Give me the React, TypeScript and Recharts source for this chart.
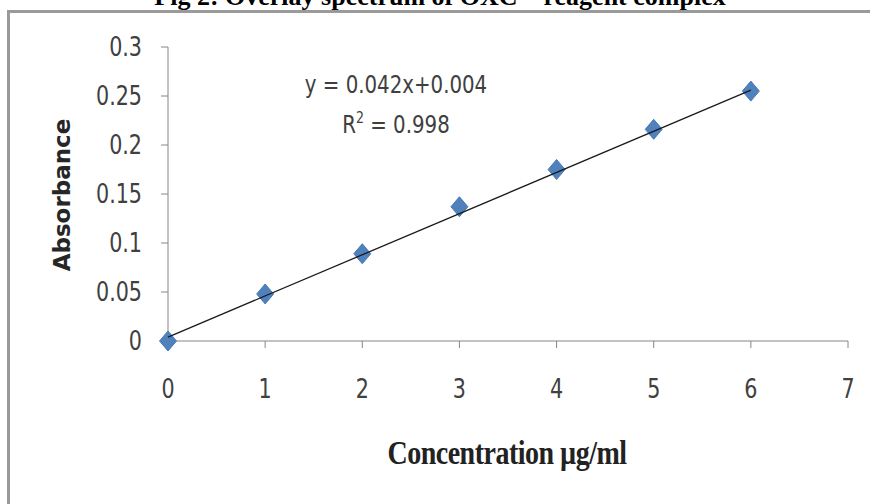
import React from 'react';
import { ScatterChart, Scatter, XAxis, YAxis } from 'recharts';

// calibration data
const concentration = [0, 1, 2, 3, 4, 5, 6];
const absorbance = [0, 0.048, 0.089, 0.137, 0.175, 0.216, 0.255];
const xTicks = [0, 1, 2, 3, 4, 5, 6, 7];
const yTicks = [0, 0.05, 0.1, 0.15, 0.2, 0.25, 0.3];
const yTickLabels = ['0', '0.05', '0.1', '0.15', '0.2', '0.25', '0.3'];
// linear trendline ends, from y = 0.042x + 0.004
const trendX = [0, 6];
const trendY = [0.004, 0.256];

const points = concentration.map((x, i) => ({ x, y: absorbance[i] }));
const trend = trendX.map((x, i) => ({ x, y: trendY[i] }));

const narrow = '"DejaVu Sans Condensed", "Liberation Sans Narrow", sans-serif';
const serif = '"Liberation Serif", "Times New Roman", serif';

function Diamond(props: any) {
  const { cx, cy } = props;
  if (cx == null || cy == null) return <g />;
  return (
    <path
      d={`M${cx},${cy - 10} L${cx + 8.5},${cy} L${cx},${cy + 10} L${cx - 8.5},${cy} Z`}
      fill="#4f81bd"
      stroke="#4a7ab3"
      strokeWidth={1}
    />
  );
}

function NoDot() {
  return <g />;
}

// tick text a bit taller than wide, like the original's condensed font
function XTick(props: any) {
  const { x, y, payload } = props;
  return (
    <text
      transform={`translate(${x},${y}) scale(1,1.15)`}
      textAnchor="middle"
      dy="0.71em"
      fontSize={23}
      fill="#404040"
      fontFamily={narrow}
    >
      {payload.value}
    </text>
  );
}

function YTick(props: any) {
  const { x, y, payload } = props;
  const label = yTickLabels[yTicks.indexOf(payload.value)] ?? String(payload.value);
  return (
    <text
      transform={`translate(${x},${y}) scale(1,1.15)`}
      textAnchor="end"
      dy="0.355em"
      fontSize={23}
      fill="#404040"
      fontFamily={narrow}
    >
      {label}
    </text>
  );
}

export default function App() {
  return (
    <div style={{ position: 'relative', width: 870, height: 504, overflow: 'hidden', background: '#fff' }}>
      <style>{'body{margin:0}'}</style>
      <div
        style={{
          position: 'absolute',
          left: 0,
          width: 880,
          top: -18,
          textAlign: 'center',
          fontFamily: serif,
          fontWeight: 'bold',
          fontSize: 26,
          lineHeight: '30px',
          color: '#000',
          whiteSpace: 'nowrap',
        }}
      >
        Fig 2: Overlay spectrum of OXC – reagent complex
      </div>
      <div
        style={{
          position: 'absolute',
          left: 7,
          top: 10,
          width: 1000,
          height: 1000,
          border: '3px solid #9a9a9a',
          boxSizing: 'border-box',
        }}
      />
      <ScatterChart width={870} height={504} margin={{ top: 47, right: 22, left: 108, bottom: 133 }}>
        <XAxis
          type="number"
          dataKey="x"
          domain={[0, 7]}
          ticks={xTicks}
          interval={0}
          height={30}
          stroke="#868686"
          tickSize={7}
          tickMargin={31}
          tick={XTick}
        />
        <YAxis
          type="number"
          dataKey="y"
          domain={[0, 0.3]}
          ticks={yTicks}
          interval={0}
          width={60}
          stroke="#868686"
          tickSize={7}
          tickMargin={19}
          tick={YTick}
        />
        <Scatter data={points} shape={Diamond} isAnimationActive={false} />
        <Scatter
          data={trend}
          line={{ stroke: '#1a1a1a', strokeWidth: 1.3 }}
          shape={NoDot}
          isAnimationActive={false}
        />
      </ScatterChart>
      <div
        style={{
          position: 'absolute',
          left: 246,
          width: 300,
          top: 67,
          textAlign: 'center',
          fontFamily: narrow,
          fontSize: 22,
          lineHeight: '36px',
          color: '#404040',
          whiteSpace: 'nowrap',
          transform: 'scaleY(1.12)',
          transformOrigin: '50% 18px',
        }}
      >
        <div>y = 0.042x+0.004</div>
        <div>
          R<sup style={{ fontSize: 14, verticalAlign: 'top', lineHeight: '22px' }}>2</sup> = 0.998
        </div>
      </div>
      <div
        style={{
          position: 'absolute',
          left: 62,
          top: 195,
          transform: 'translate(-50%, -50%) rotate(-90deg)',
          whiteSpace: 'nowrap',
          fontFamily: '"DejaVu Sans", sans-serif',
          fontWeight: 'bold',
          fontSize: 23,
          color: '#262626',
        }}
      >
        Absorbance
      </div>
      <div
        style={{
          position: 'absolute',
          left: 507,
          top: 453,
          transform: 'translate(-50%, -50%) scaleY(1.2)',
          whiteSpace: 'nowrap',
          fontFamily: serif,
          fontWeight: 'bold',
          fontSize: 28,
          letterSpacing: -0.5,
          color: '#222',
        }}
      >
        Concentration µg/ml
      </div>
    </div>
  );
}
